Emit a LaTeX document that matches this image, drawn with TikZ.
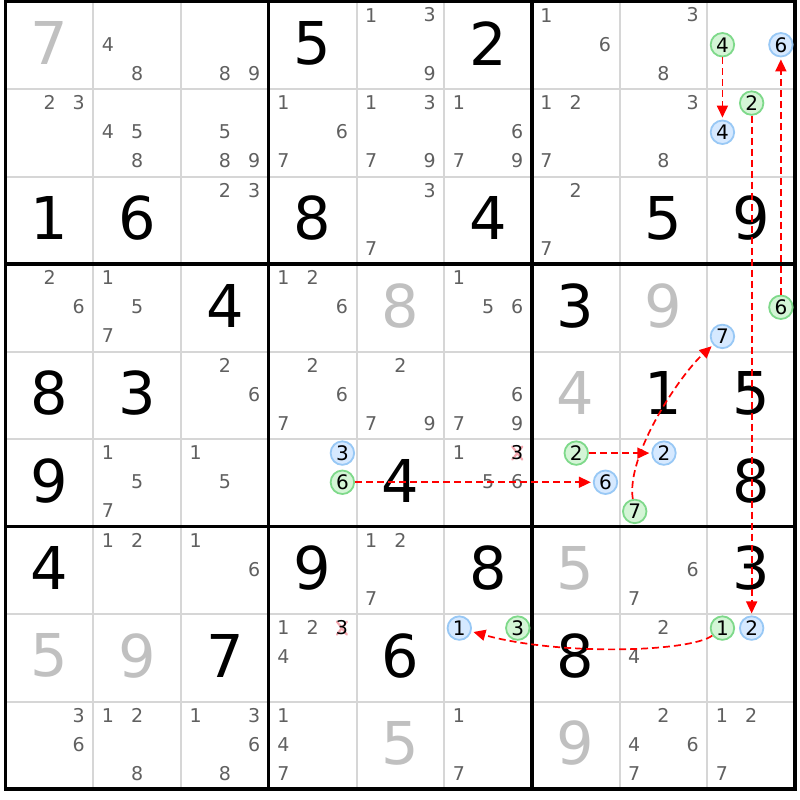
\documentclass[tikz,border=0pt]{standalone}
\usepackage{fontspec}
\setmainfont{DejaVu Sans}
\usetikzlibrary{arrows.meta}
\definecolor{candgray}{HTML}{606060}
\definecolor{lightdig}{HTML}{C0C0C0}
\definecolor{gridgray}{HTML}{D6D6D6}
\definecolor{gfill}{HTML}{D4F5D6}
\definecolor{gline}{HTML}{7ED98A}
\definecolor{bfill}{HTML}{D6E9FF}
\definecolor{bline}{HTML}{98C8F5}
\definecolor{xpink}{HTML}{F5A8B0}
\tikzset{
  bigdig/.style={font=\fontsize{59}{59}\selectfont, inner sep=0pt, text=black},
  lightd/.style={bigdig, text=lightdig},
  cand/.style={font=\fontsize{19}{19}\selectfont, inner sep=0pt, text=candgray},
  gring/.style={circle, draw=gline, fill=gfill, line width=1.8pt, minimum size=23.5pt,
    inner sep=0pt, font=\fontsize{20}{20}\selectfont, text=black},
  bring/.style={gring, draw=bline, fill=bfill},
  chain/.style={draw=red, line width=1.7pt, dash pattern=on 7pt off 4pt,
    -{Triangle[length=12pt,width=11pt]}, shorten >=2pt},
  gridline/.style={draw=gridgray, line width=2pt},
  boxline/.style={draw=black, line width=3.2pt},
  xmark/.style={draw=xpink, line width=2.2pt, line cap=round},
}
\newcommand\Pos[4]{%
  \pgfmathsetmacro\xx{5.7+87.7*(#2-1)+29.233*(#3+0.5)}%
  \pgfmathsetmacro\yy{1.5+87.5*(#1-1)+29.167*(#4+0.5)}}
\newcommand\Bg[3]{\Pos{#1}{#2}{1}{1}\node[bigdig] (n#1#2) at (\xx,{\yy-2}) {#3};}
\newcommand\Lt[3]{\Pos{#1}{#2}{1}{1}\node[lightd] (n#1#2) at (\xx,{\yy-2}) {#3};}
\newcommand\Cn[3]{\foreach \d in {#3}{%
  \pgfmathtruncatemacro\kk{mod(\d-1,3)}\pgfmathtruncatemacro\mm{int((\d-1)/3)}%
  \Pos{#1}{#2}{\kk}{\mm}\node[cand] (c#1#2\d) at (\xx,{\yy-1}) {\d};}}
\newcommand\Rg[4]{%
  \pgfmathtruncatemacro\kk{mod(#4-1,3)}\pgfmathtruncatemacro\mm{int((#4-1)/3)}%
  \Pos{#2}{#3}{\kk}{\mm}\node[#1] (#1#2#3#4) at ({\xx+0.5},{\yy-0.5}) {#4};}
\newcommand\Xd[3]{%
  \pgfmathtruncatemacro\kk{mod(#3-1,3)}\pgfmathtruncatemacro\mm{int((#3-1)/3)}%
  \Pos{#1}{#2}{\kk}{\mm}%
  \draw[xmark] ({\xx-5},{\yy-7}) -- ({\xx+5},{\yy+6}) ({\xx-5},{\yy+6}) -- ({\xx+5},{\yy-7});
  \node[cand,text=black] (x#1#2) at (\xx,{\yy-1}) {#3};}
\begin{document}
\begin{tikzpicture}[x=1pt,y=-1pt]
\fill[white] (0,0) rectangle (800,800);
\useasboundingbox (0,0) rectangle (800,800);
% grid
\foreach \i in {1,2,4,5,7,8}{
  \draw[gridline] ({5.7+87.7*\i},1.5) -- ({5.7+87.7*\i},789);
  \draw[gridline] (5.7,{1.5+87.5*\i}) -- (795,{1.5+87.5*\i});
}
\foreach \i in {0,3,6,9}{
  \draw[boxline] ({5.7+87.7*\i},0) -- ({5.7+87.7*\i},790.5);
  \draw[boxline] (4.1,{1.5+87.5*\i}) -- (796.6,{1.5+87.5*\i});
}
% row 1
\Lt{1}{1}{7}\Cn{1}{2}{4,8}\Cn{1}{3}{8,9}\Bg{1}{4}{5}\Cn{1}{5}{1,3,9}\Bg{1}{6}{2}
\Cn{1}{7}{1,6}\Cn{1}{8}{3,8}\Rg{gring}{1}{9}{4}\Rg{bring}{1}{9}{6}
% row 2
\Cn{2}{1}{2,3}\Cn{2}{2}{4,5,8}\Cn{2}{3}{5,8,9}\Cn{2}{4}{1,6,7}\Cn{2}{5}{1,3,7,9}
\Cn{2}{6}{1,6,7,9}\Cn{2}{7}{1,2,7}\Cn{2}{8}{3,8}\Rg{gring}{2}{9}{2}\Rg{bring}{2}{9}{4}
% row 3
\Bg{3}{1}{1}\Bg{3}{2}{6}\Cn{3}{3}{2,3}\Bg{3}{4}{8}\Cn{3}{5}{3,7}\Bg{3}{6}{4}
\Cn{3}{7}{2,7}\Bg{3}{8}{5}\Bg{3}{9}{9}
% row 4
\Cn{4}{1}{2,6}\Cn{4}{2}{1,5,7}\Bg{4}{3}{4}\Cn{4}{4}{1,2,6}\Lt{4}{5}{8}\Cn{4}{6}{1,5,6}
\Bg{4}{7}{3}\Lt{4}{8}{9}\Rg{gring}{4}{9}{6}\Rg{bring}{4}{9}{7}
% row 5
\Bg{5}{1}{8}\Bg{5}{2}{3}\Cn{5}{3}{2,6}\Cn{5}{4}{2,6,7}\Cn{5}{5}{2,7,9}\Cn{5}{6}{6,7,9}
\Lt{5}{7}{4}\Bg{5}{8}{1}\Bg{5}{9}{5}
% row 6
\Bg{6}{1}{9}\Cn{6}{2}{1,5,7}\Cn{6}{3}{1,5}\Rg{bring}{6}{4}{3}\Rg{gring}{6}{4}{6}
\Bg{6}{5}{4}\Cn{6}{6}{1,5,6}\Xd{6}{6}{3}\Rg{gring}{6}{7}{2}\Rg{bring}{6}{7}{6}
\Rg{bring}{6}{8}{2}\Rg{gring}{6}{8}{7}\Bg{6}{9}{8}
% row 7
\Bg{7}{1}{4}\Cn{7}{2}{1,2}\Cn{7}{3}{1,6}\Bg{7}{4}{9}\Cn{7}{5}{1,2,7}\Bg{7}{6}{8}
\Lt{7}{7}{5}\Cn{7}{8}{6,7}\Bg{7}{9}{3}
% row 8
\Lt{8}{1}{5}\Lt{8}{2}{9}\Bg{8}{3}{7}\Cn{8}{4}{1,2,4}\Xd{8}{4}{3}\Bg{8}{5}{6}
\Rg{bring}{8}{6}{1}\Rg{gring}{8}{6}{3}\Bg{8}{7}{8}\Cn{8}{8}{2,4}
\Rg{gring}{8}{9}{1}\Rg{bring}{8}{9}{2}
% row 9
\Cn{9}{1}{3,6}\Cn{9}{2}{1,2,8}\Cn{9}{3}{1,3,6,8}\Cn{9}{4}{1,4,7}\Lt{9}{5}{5}
\Cn{9}{6}{1,7}\Lt{9}{7}{9}\Cn{9}{8}{2,4,6,7}\Cn{9}{9}{1,2,7}
% chain
\draw[chain] (gring194) -- (bring294);
\draw[chain] (gring292) -- (bring892);
\draw[chain] (gring496) -- (bring196);
\draw[chain] (gring646) -- (bring676);
\draw[chain] (gring672) -- (bring682);
\draw[chain] (gring687) .. controls (626,455) and (680,375) .. (bring497);
\draw[chain] (gring891) .. controls (690,652) and (560,656) .. (bring861);
\end{tikzpicture}
\end{document}
